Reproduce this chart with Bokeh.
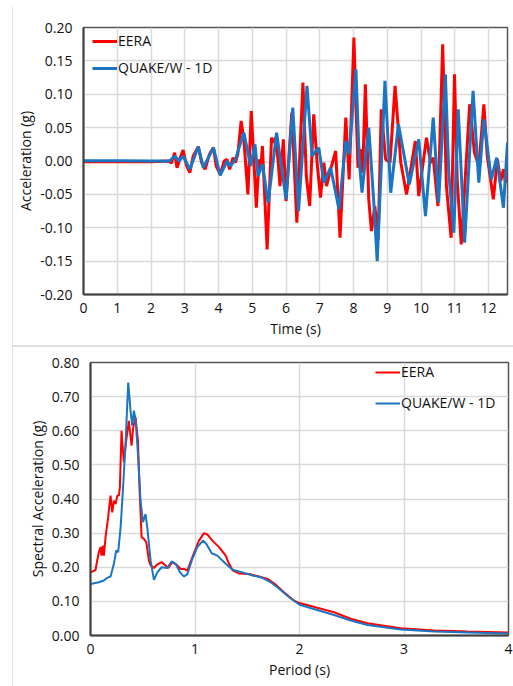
from bokeh.plotting import figure
from bokeh.models import (Range1d, FixedTicker, NumeralTickFormatter, Legend,
                          LegendItem, Spacer)
from bokeh.layouts import column, row
from bokeh.embed import file_html
from bokeh.resources import INLINE

FONT = "Open Sans"
RED = "#ff0000"
BLUE = "#1b75c3"
TEXT = "#111111"

# ---- acceleration time history (g) ----
eera_time = [0.0, 1.0, 2.0, 2.55, 2.60, 2.70, 2.77, 2.85, 2.95, 3.05, 3.15, 3.25,
             3.40, 3.50, 3.60, 3.73, 3.85, 3.93, 4.05, 4.17, 4.25, 4.33, 4.43, 4.50,
             4.57, 4.67, 4.75, 4.87, 4.97, 5.12, 5.20, 5.25, 5.30, 5.44, 5.57, 5.62,
             5.69, 5.77, 5.82, 5.92, 6.00, 6.17, 6.32, 6.50, 6.60, 6.70, 6.82, 6.92,
             7.02, 7.12, 7.20, 7.32, 7.47, 7.60, 7.77, 7.87, 8.01, 8.13, 8.23, 8.27,
             8.35, 8.45, 8.53, 8.63, 8.73, 8.82, 8.95, 9.08, 9.23, 9.40, 9.57, 9.83,
             9.93, 10.16, 10.28, 10.36, 10.50, 10.64, 10.75, 10.89, 10.99, 11.07,
             11.19, 11.44, 11.58, 11.71, 11.86, 11.96, 12.14, 12.26, 12.36, 12.44,
             12.50, 12.56]
eera_acc = [-0.001, -0.001, -0.001, 0.0, -0.0035, 0.0125, -0.01, 0.0025, 0.0165,
            -0.0065, -0.0175, 0.0075, 0.0215, -0.0025, -0.0125, 0.01, 0.02, -0.0075,
            -0.02, 0.0, 0.0025, -0.0125, 0.005, -0.0025, 0.01, 0.06, 0.0325, -0.05,
            0.075, -0.07, 0.0025, -0.0125, 0.0225, -0.1325, 0.035, 0.0275, 0.035,
            -0.0025, -0.0375, 0.0325, -0.06, 0.0725, -0.0925, 0.1175, -0.0225,
            -0.0675, 0.07, -0.0025, -0.055, -0.0025, -0.0375, -0.0125, 0.015, -0.115,
            0.065, -0.0275, 0.185, -0.01, 0.0175, -0.0175, 0.115, -0.0575, -0.105,
            -0.0675, -0.1175, 0.0775, 0.0025, -0.0025, 0.1125, -0.0025, -0.05, 0.03,
            -0.0525, 0.035, -0.0025, 0.005, -0.0675, 0.175, -0.0375, -0.115, 0.13,
            -0.0275, -0.125, 0.085, 0.0125, -0.0075, 0.085, 0.0075, -0.0575, 0.0025,
            -0.03, -0.0125, -0.0325, -0.017]

quake_time = [0.0, 1.0, 2.0, 2.55, 2.70, 2.83, 2.95, 3.15, 3.40, 3.55, 3.70, 3.85,
              4.05, 4.25, 4.35, 4.50, 4.75, 4.95, 5.08, 5.17, 5.30, 5.47, 5.72, 6.00,
              6.20, 6.37, 6.62, 6.77, 6.97, 7.12, 7.32, 7.57, 7.77, 7.87, 8.07, 8.17,
              8.25, 8.45, 8.60, 8.70, 8.93, 9.10, 9.33, 9.50, 9.65, 9.93, 10.13, 10.36,
              10.52, 10.72, 10.82, 10.97, 11.10, 11.29, 11.54, 11.71, 11.86, 12.08,
              12.24, 12.44, 12.56]
quake_acc = [0.0005, 0.0005, 0.0, 0.0, 0.0075, 0.0, 0.0075, -0.0125, 0.0215, -0.01,
             0.005, 0.02, -0.0215, 0.0, -0.008, 0.0025, 0.0425, -0.0075, 0.025,
             -0.0225, -0.005, -0.0625, 0.0425, -0.0575, 0.08, -0.075, 0.1125, 0.0075,
             0.02, -0.0325, -0.01, -0.0725, 0.03, 0.01, 0.1375, 0.0, -0.0475, 0.05,
             -0.0625, -0.15, 0.12, -0.0475, 0.055, 0.0075, -0.035, 0.0325, -0.0825,
             0.065, -0.0625, 0.13, -0.0175, -0.1075, 0.0775, -0.1225, 0.105, -0.0325,
             0.0625, -0.0275, 0.005, -0.07, 0.0275]

# ---- response spectra (g) ----
eera_period = [0.0, 0.048, 0.064, 0.08, 0.096, 0.105, 0.118, 0.128, 0.144, 0.169,
               0.182, 0.192, 0.208, 0.224, 0.24, 0.256, 0.272, 0.281, 0.297, 0.319,
               0.342, 0.367, 0.393, 0.409, 0.431, 0.454, 0.47, 0.489, 0.511, 0.534,
               0.559, 0.575, 0.607, 0.639, 0.681, 0.719, 0.744, 0.783, 0.821, 0.863,
               0.895, 0.927, 0.974, 1.038, 1.086, 1.118, 1.166, 1.23, 1.294, 1.326,
               1.364, 1.422, 1.518, 1.613, 1.693, 1.773, 1.869, 1.949, 2.0, 2.33,
               2.49, 2.65, 2.97, 3.29, 3.61, 4.0]
eera_sa = [0.185, 0.192, 0.22, 0.244, 0.259, 0.234, 0.263, 0.234, 0.288, 0.346,
           0.385, 0.41, 0.361, 0.395, 0.385, 0.41, 0.41, 0.434, 0.60, 0.507, 0.571,
           0.629, 0.556, 0.61, 0.639, 0.571, 0.424, 0.288, 0.283, 0.273, 0.22, 0.205,
           0.198, 0.208, 0.215, 0.205, 0.198, 0.215, 0.208, 0.195, 0.195, 0.19,
           0.229, 0.278, 0.30, 0.296, 0.278, 0.259, 0.234, 0.21, 0.19, 0.182, 0.18,
           0.173, 0.166, 0.149, 0.122, 0.102, 0.095, 0.068, 0.049, 0.036, 0.021,
           0.0146, 0.0117, 0.009]

quake_period = [0.0, 0.08, 0.128, 0.16, 0.192, 0.224, 0.246, 0.265, 0.288, 0.31,
                0.335, 0.361, 0.383, 0.399, 0.415, 0.431, 0.454, 0.479, 0.502, 0.527,
                0.543, 0.575, 0.607, 0.639, 0.681, 0.735, 0.776, 0.815, 0.856, 0.895,
                0.927, 0.974, 1.022, 1.077, 1.109, 1.16, 1.214, 1.294, 1.358, 1.454,
                1.55, 1.645, 1.725, 1.805, 1.901, 2.0, 2.33, 2.49, 2.65, 2.97, 3.29,
                3.61, 4.0]
quake_sa = [0.151, 0.156, 0.161, 0.169, 0.173, 0.21, 0.249, 0.244, 0.317, 0.424,
            0.561, 0.741, 0.659, 0.615, 0.659, 0.634, 0.532, 0.395, 0.332, 0.356,
            0.317, 0.22, 0.163, 0.185, 0.20, 0.198, 0.217, 0.21, 0.185, 0.173, 0.18,
            0.224, 0.259, 0.278, 0.268, 0.241, 0.234, 0.21, 0.193, 0.185, 0.176,
            0.169, 0.156, 0.137, 0.112, 0.09, 0.06, 0.044, 0.031, 0.0176, 0.0117,
            0.009, 0.006]

# ---- axis ticks ----
time_ticks = list(range(0, 13))
acc_ticks = [-0.20, -0.15, -0.10, -0.05, 0.0, 0.05, 0.10, 0.15, 0.20]
period_ticks = [0, 1, 2, 3, 4]
sa_ticks = [0.0, 0.1, 0.2, 0.3, 0.4, 0.5, 0.6, 0.7, 0.8]

FS = "14px"


def style_axes(p, xlab, ylab, xticks, yticks, yfmt):
    p.outline_line_color = "#555555"
    p.outline_line_width = 1.5
    p.xaxis.axis_label = xlab
    p.yaxis.axis_label = ylab
    p.xaxis.ticker = FixedTicker(ticks=xticks)
    p.yaxis.ticker = FixedTicker(ticks=yticks)
    p.yaxis.formatter = NumeralTickFormatter(format=yfmt)
    for ax in (p.xaxis[0], p.yaxis[0]):
        ax.axis_line_color = "#404040"
        ax.axis_line_width = 2
        ax.major_tick_line_color = None
        ax.minor_tick_line_color = None
        ax.major_tick_in = 0
        ax.major_tick_out = 0
        ax.minor_tick_in = 0
        ax.minor_tick_out = 0
        ax.major_label_text_font = FONT
        ax.major_label_text_font_size = FS
        ax.major_label_text_color = TEXT
        ax.axis_label_text_font = FONT
        ax.axis_label_text_font_size = FS
        ax.axis_label_text_font_style = "normal"
        ax.axis_label_text_color = TEXT
    p.yaxis.major_label_standoff = 11
    p.xaxis.major_label_standoff = 8
    p.xaxis.axis_label_standoff = 3
    p.yaxis.axis_label_standoff = 2
    p.xgrid.ticker = FixedTicker(ticks=xticks)
    p.ygrid.ticker = FixedTicker(ticks=yticks)
    p.grid.grid_line_color = "#dadada"
    p.grid.grid_line_width = 1.5


def make_legend(items, loc, spacing):
    return Legend(items=items, location=loc, spacing=spacing, padding=0, margin=0,
                  glyph_width=25, glyph_height=18, label_standoff=1,
                  label_text_font=FONT, label_text_font_size=FS,
                  label_text_color=TEXT, background_fill_alpha=0,
                  border_line_alpha=0)


# ---- top: acceleration time history ----
p1 = figure(width=500, height=345, output_backend="svg", toolbar_location=None,
            x_range=Range1d(0, 12.56), y_range=Range1d(-0.2, 0.2),
            min_border_left=70, min_border_right=6, min_border_top=27,
            min_border_bottom=51)
style_axes(p1, "Time (s)", "Acceleration (g)", time_ticks, acc_ticks, "0.00")
r1 = p1.line(eera_time, eera_acc, line_color=RED, line_width=3)
b1 = p1.line(quake_time, quake_acc, line_color=BLUE, line_width=3)
p1.add_layout(make_legend([LegendItem(label="EERA", renderers=[r1]),
                           LegendItem(label="QUAKE/W - 1D", renderers=[b1])],
                          (9, 217), 8))

# ---- bottom: response spectra ----
p2 = figure(width=493, height=339, output_backend="svg", toolbar_location=None,
            x_range=Range1d(0, 4), y_range=Range1d(0, 0.8),
            min_border_left=70, min_border_right=5, min_border_top=15,
            min_border_bottom=51)
style_axes(p2, "Period (s)", "Spectral Acceleration (g)", period_ticks, sa_ticks, "0.00")
r2 = p2.line(eera_period, eera_sa, line_color=RED, line_width=2)
b2 = p2.line(quake_period, quake_sa, line_color=BLUE, line_width=2)
p2.add_layout(make_legend([LegendItem(label="EERA", renderers=[r2]),
                           LegendItem(label="QUAKE/W - 1D", renderers=[b2])],
                          (285, 223), 12))

# thin panel rules between and beside the two charts
sep = Spacer(width=500, height=2, styles={"background-color": "#e0e0e0"})
edge = column(Spacer(width=1, height=7),
              Spacer(width=1, height=679, styles={"background-color": "#e0e0e0"}))
charts = column(p1, sep, row(Spacer(width=7, height=339), p2))
layout = row(Spacer(width=12, height=686), edge, charts)

open("out.html", "w").write(file_html(layout, INLINE))
